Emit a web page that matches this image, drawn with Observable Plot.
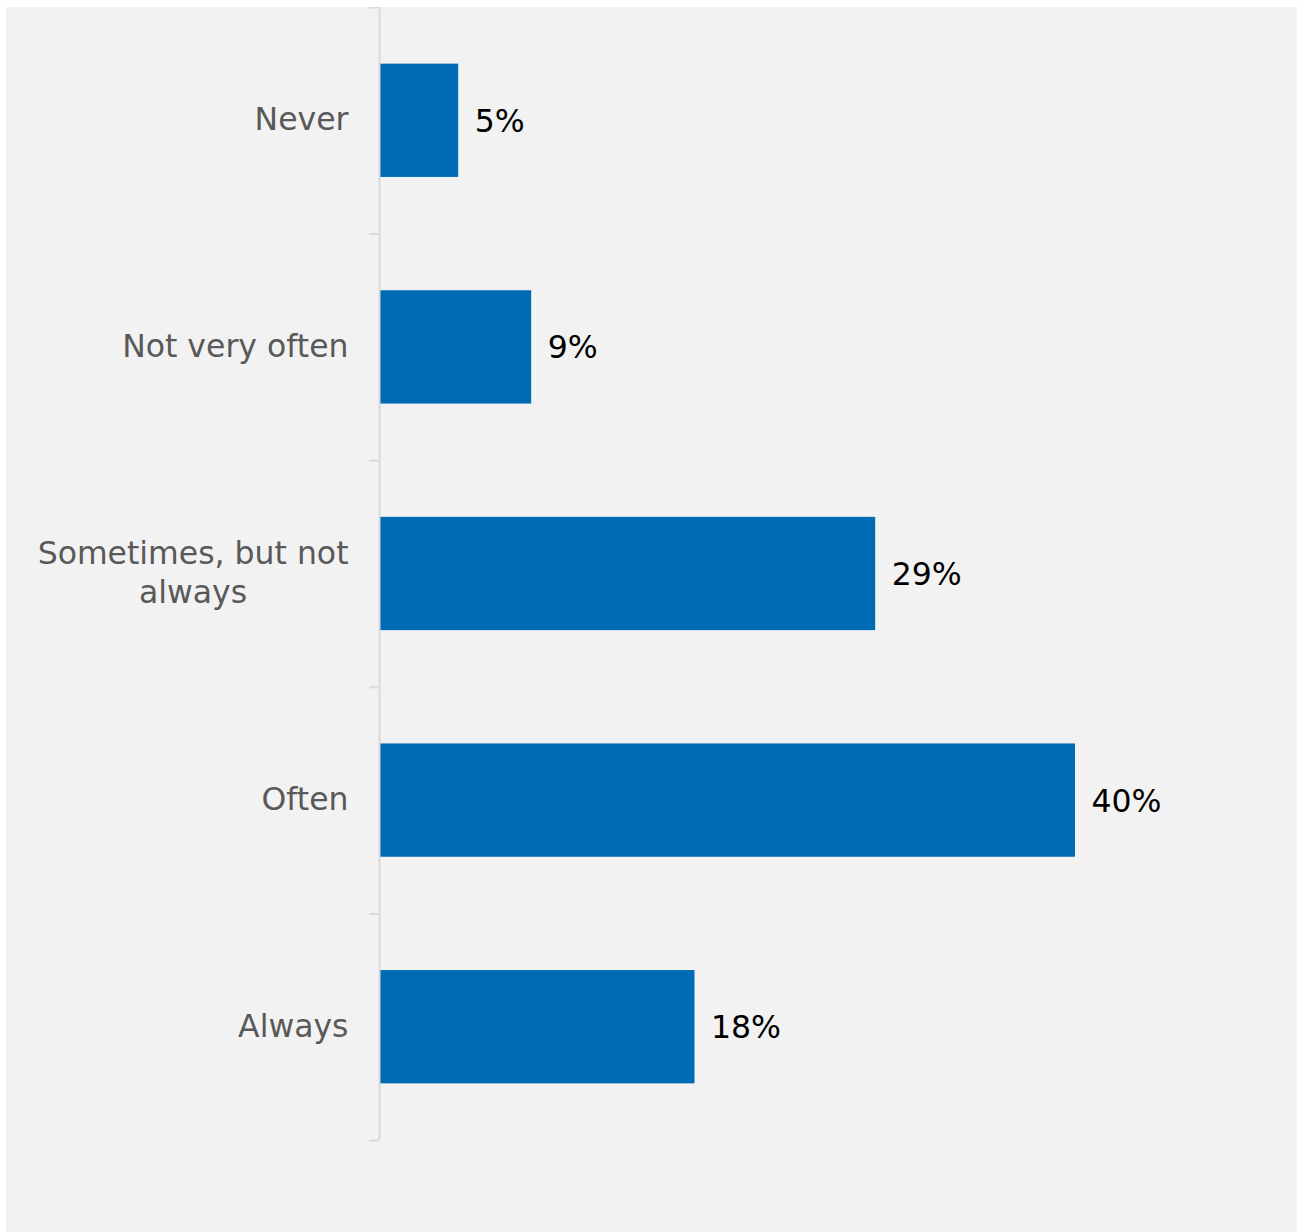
<!DOCTYPE html>
<html>
<head>
<meta charset="utf-8">
<script src="https://cdn.jsdelivr.net/npm/d3@7"></script>
<script src="https://cdn.jsdelivr.net/npm/@observablehq/plot@0.6"></script>
<style>
  html, body { margin: 0; padding: 0; background: #ffffff; }
  #wrap { position: relative; width: 1303px; height: 1232px; overflow: hidden; }
  #panel { position: absolute; left: 6px; top: 7px; width: 1291px; height: 1225px; background: #f2f2f2; }
  #panel svg { display: block; background: transparent; }
</style>
</head>
<body>
<div id="wrap"><div id="panel"></div></div>
<script>
const categories = ["Never", "Not very often", "Sometimes, but not\nalways", "Often", "Always"];
const values = [4.5, 8.7, 28.5, 40.0, 18.1];
const valueLabels = ["5%", "9%", "29%", "40%", "18%"];
const tickPositions = [0, 1, 2, 3, 4, 5];

const rows = categories.map((c, i) => ({ cat: c, i, value: values[i], label: valueLabels[i] }));

const FONT = "'DejaVu Sans', sans-serif";
const FS = 31.5;

const chart = Plot.plot({
  width: 1291,
  height: 1225,
  marginLeft: 374,
  marginRight: 222,
  marginTop: 0,
  marginBottom: 92,
  style: { fontFamily: FONT, background: "transparent" },
  x: { domain: [0, 40], axis: null },
  y: { domain: [0, 5], reverse: true, axis: null },
  marks: [
    Plot.rectX(rows, {
      x1: 0, x2: "value",
      y1: d => d.i + 0.25, y2: d => d.i + 0.75,
      fill: "#006ab5"
    }),
    Plot.ruleX([0], { y1: 0, y2: 5, stroke: "#d9d9d9", strokeWidth: 2, dx: -1 }),
    Plot.axisY(tickPositions, {
      anchor: "left", tickSize: 10, tickFormat: () => "", stroke: "#d9d9d9", strokeWidth: 2, strokeOpacity: 1, dx: -1
    }),
    Plot.text(rows, {
      x: 0, y: d => d.i + 0.5, text: "cat",
      textAnchor: "end", dx: -32, dy: -3, lineHeight: 1.22,
      fill: "#595959", fontSize: FS, className: "catlab"
    }),
    Plot.text(rows, {
      x: "value", y: d => d.i + 0.5, text: "label",
      textAnchor: "start", dx: 16, dy: 1,
      fill: "#000000", fontSize: FS
    })
  ]
});

document.getElementById("panel").appendChild(chart);

// center multi-line category labels within their right-aligned box
chart.querySelectorAll(".catlab text").forEach(t => {
  const spans = t.querySelectorAll("tspan");
  if (spans.length > 1) {
    const w = t.getBBox().width;
    t.setAttribute("text-anchor", "middle");
    const tr = t.getAttribute("transform") || "";
    t.setAttribute("transform", tr + ` translate(${-w / 2},0)`);
  }
});
</script>
</body>
</html>
